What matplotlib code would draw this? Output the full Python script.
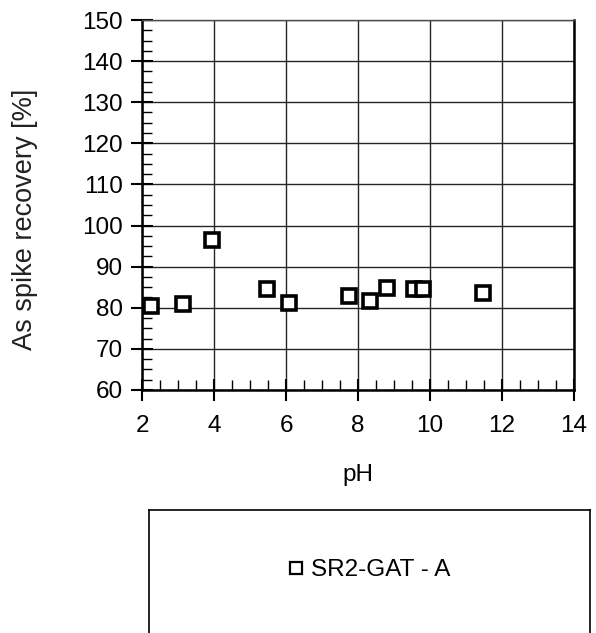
import matplotlib
matplotlib.use("Agg")
import matplotlib.pyplot as plt
from matplotlib.ticker import MultipleLocator

plt.rcParams["font.family"] = ["Liberation Sans", "DejaVu Sans"]

# spike recovery measured over the pH range
ph = [2.24, 3.13, 3.93, 5.48, 6.08, 7.76, 8.32, 8.80, 9.56, 9.81, 11.47]
recovery = [80.4, 80.9, 96.5, 84.5, 81.2, 82.9, 81.6, 84.9, 84.5, 84.5, 83.7]
series_name = "SR2-GAT - A"

fig = plt.figure(figsize=(5.96, 6.33), dpi=100)
ax = fig.add_axes([0.2383, 0.3839, 0.7248, 0.5845])

ax.plot(ph, recovery, linestyle="none", marker="s", markersize=10,
        markerfacecolor="white", markeredgecolor="black", markeredgewidth=2.6,
        label=series_name, zorder=3)

ax.set_xlim(2, 14)
ax.set_ylim(60, 150)
ax.xaxis.set_major_locator(MultipleLocator(2))
ax.xaxis.set_minor_locator(MultipleLocator(0.5))
ax.yaxis.set_major_locator(MultipleLocator(10))
ax.yaxis.set_minor_locator(MultipleLocator(2.5))

ax.grid(True, which="major", color="0.15", linewidth=1)
ax.set_axisbelow(True)
for sp in ax.spines.values():
    sp.set_linewidth(1.8)
    sp.set_color("black")
ax.spines["top"].set_color("0.3")
ax.spines["top"].set_linewidth(1)

ax.tick_params(which="major", direction="inout", length=16, width=1.5,
               labelsize=17.5, pad=6)
ax.tick_params(which="minor", direction="in", length=7, width=1)
ax.tick_params(axis="x", which="major", pad=10)

ax.set_xlabel("pH", fontsize=17.5)
ax.xaxis.set_label_coords(0.5, -0.2)
ax.set_ylabel("As spike recovery [%]", fontsize=19.5, color="#222222")
ax.yaxis.set_label_coords(-0.24, 0.46)

# separate framed box that holds the legend below the plot
box = fig.add_axes([0.25, -0.05, 0.74, 0.244])
box.set_xticks([])
box.set_yticks([])
for sp in box.spines.values():
    sp.set_linewidth(1.2)
    sp.set_color("black")

handles, labels = ax.get_legend_handles_labels()
leg = box.legend(handles, labels, loc="center", bbox_to_anchor=(0.5, 0.61),
                 frameon=False, fontsize=17.5, handlelength=0.6,
                 handletextpad=0.3, markerscale=0.8)
for h in leg.legend_handles:
    h.set_markeredgewidth(1.6)

fig.savefig("out.png", dpi=100)
